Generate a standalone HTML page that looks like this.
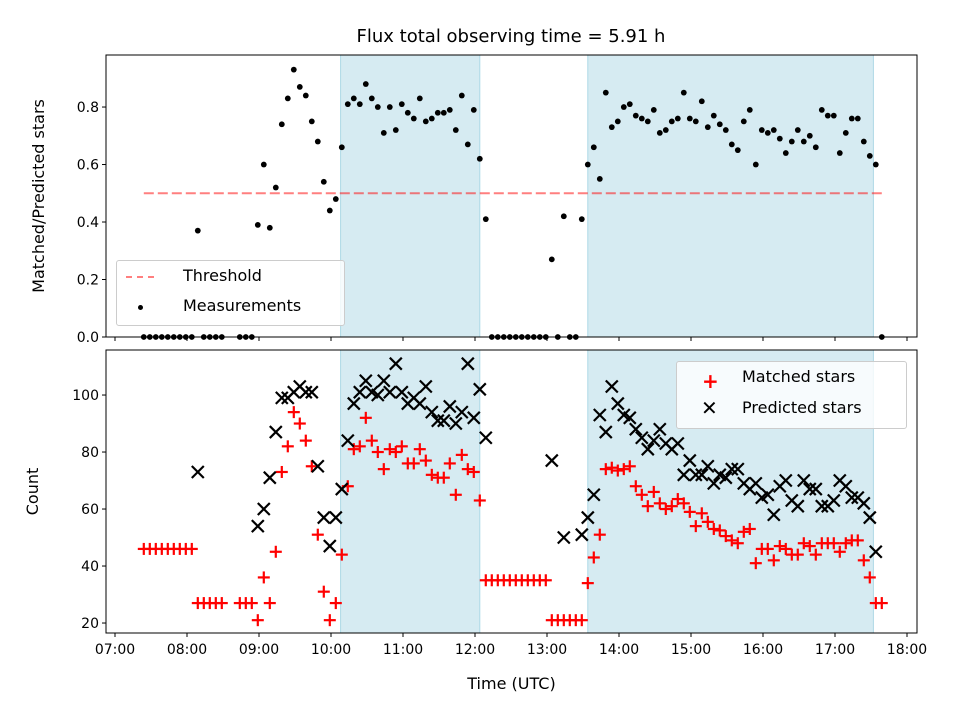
<!DOCTYPE html>
<html><head><meta charset="utf-8"><style>
html,body{margin:0;padding:0;background:#fff;}
svg{display:block;font-family:"DejaVu Sans","Liberation Sans",sans-serif;}
</style></head><body>
<svg id="chart" width="960" height="720" viewBox="0 0 960 720">
<text x="511" y="42" font-size="18" text-anchor="middle">Flux total observing time = 5.91 h</text>
</svg>
<script>
const times = [
"07:24","07:29","07:34","07:39","07:44","07:49","07:54","07:59",
"08:04","08:09","08:14","08:19","08:24","08:29","08:34","08:39","08:44","08:49","08:54","08:59",
"09:04","09:09","09:14","09:19","09:24","09:29","09:34","09:39","09:44","09:49","09:54","09:59",
"10:04","10:09","10:14","10:19","10:24","10:29","10:34","10:39","10:44","10:49","10:54","10:59",
"11:04","11:09","11:14","11:19","11:24","11:29","11:34","11:39","11:44","11:49","11:54","11:59",
"12:04","12:09","12:14","12:19","12:24","12:29","12:34","12:39","12:44","12:49","12:54","12:59",
"13:04","13:09","13:14","13:19","13:24","13:29","13:34","13:39","13:44","13:49","13:54","13:59",
"14:04","14:09","14:14","14:19","14:24","14:29","14:34","14:39","14:44","14:49","14:54","14:59",
"15:04","15:09","15:14","15:19","15:24","15:29","15:34","15:39","15:44","15:49","15:54","15:59",
"16:04","16:09","16:14","16:19","16:24","16:29","16:34","16:39","16:44","16:49","16:54","16:59",
"17:04","17:09","17:14","17:19","17:24","17:29","17:34","17:39"];
const ratio = [
0,0,0,0,0,0,0,0,0,0.37,0,0,0,0,null,null,0,0,0,0.39,
0.60,0.38,0.52,0.74,0.83,0.93,0.87,0.84,0.75,0.68,0.54,0.44,0.48,0.66,0.81,0.83,0.81,0.88,0.83,0.80,
0.71,0.80,0.72,0.81,0.78,0.76,0.83,0.75,0.76,0.78,0.78,0.79,0.72,0.84,0.67,0.79,0.62,0.41,0,0,
0,0,0,0,0,0,0,0,0.27,0,0.42,0,0,0.41,0.60,0.66,0.55,0.85,0.73,0.75,
0.80,0.81,0.77,0.76,0.75,0.79,0.71,0.72,0.75,0.76,0.85,0.76,0.75,0.82,0.73,0.77,0.74,0.72,0.67,0.65,
0.75,0.79,0.60,0.72,0.71,0.72,0.69,0.64,0.68,0.72,0.68,0.70,0.66,0.79,0.77,0.77,0.64,0.71,0.76,0.76,
0.68,0.63,0.60,0];
const matched = [
46,46,46,46,46,46,46,46,46,27,27,27,27,27,null,null,27,27,27,21,
36,27,45,73,82,94,90,84,75,51,31,21,27,44,68,81,82,92,84,80,
74,81,80,82,76,76,81,77,72,71,71,76,65,79,74,73,63,35,35,35,
35,35,35,35,35,35,35,35,21,21,21,21,21,21,34,43,51,74,74.5,73.5,
74,75,68,65,61,66,62,60,61,63.5,62,59,54,58.5,55.5,53,52.5,50.5,49,48,
52,53,41,46,46,42,47,46,44,44,48,47,44,48,48,48,45,48,49,49,
42,36,27,27];
const predicted = [
null,null,null,null,null,null,null,null,null,73,null,null,null,null,null,null,null,null,null,54,
60,71,87,99,99,101,103,101,101,75,57,47,57,67,84,97,101,105,101,100,
105,101,111,101,97,99,97,103,94,91,91,96,90,94,111,92,102,85,null,null,
null,null,null,null,null,null,null,null,77,null,50,null,null,51,57,65,93,87,103,97,
93,92,88,85,81,84,88,83,81,83,72,77,72,72,75,69,72,71,74,74,
69,67,69,64,65,58,68,70,63,61,70,67,67,61,61,63,70,68,64,64,
62,57,45,null];
const threshold = [0.5];
const windowStarts = ["10:08","13:34"];
const windowEnds = ["12:04","17:32"];
const xTickLabels = ["07:00","08:00","09:00","10:00","11:00","12:00","13:00","14:00","15:00","16:00","17:00","18:00"];
const topTicks = [0.0,0.2,0.4,0.6,0.8];
const bottomTicks = [20,40,60,80,100];

const NS="http://www.w3.org/2000/svg";
const svg=document.getElementById('chart');
function el(tag,attrs,parent){const e=document.createElementNS(NS,tag);for(const k in attrs)e.setAttribute(k,attrs[k]);(parent||svg).appendChild(e);return e;}
function hrs(s){const p=s.split(':');return +p[0]+ +p[1]/60;}
const L=106,R=917;
const xMin=6.875,xMax=18.139;
function X(h){return L+(h-xMin)/(xMax-xMin)*(R-L);}
const T={top:55,bot:337,min:0,max:0.981};
const B={top:350,bot:633,min:16.5,max:115.8};
function Y(ax,v){return ax.bot-(v-ax.min)/(ax.max-ax.min)*(ax.bot-ax.top);}

function drawAxes(ax,name,ticks,fmt,ylabel,labelX,showXLabels){
  const g=el('g',{});
  
  
  for(let i=0;i<windowStarts.length;i++){
    const r=el('rect',{x:X(hrs(windowStarts[i])),y:ax.top,width:X(hrs(windowEnds[i]))-X(hrs(windowStarts[i])),height:ax.bot-ax.top,fill:'#add8e6','fill-opacity':0.5,stroke:'#add8e6'},g);
    
    
  }
  ticks.forEach(t=>{
    const y=Y(ax,t);
    el('line',{x1:L-4,x2:L,y1:y,y2:y,stroke:'#000','stroke-width':1},g);
    const tx=el('text',{x:L-7,y:y+5,'font-size':14,'text-anchor':'end'},g);
    tx.textContent=fmt(t);
    
    
  });
  xTickLabels.forEach(s=>{
    const x=X(hrs(s));
    el('line',{x1:x,x2:x,y1:ax.bot,y2:ax.bot+4,stroke:'#000','stroke-width':1},g);
    if(showXLabels){
      const tx=el('text',{x:x,y:ax.bot+21,'font-size':14,'text-anchor':'middle'},g);
      tx.textContent=s;
      
      
    }
  });
  const yl=el('text',{x:labelX,y:(ax.top+ax.bot)/2,'font-size':16,'text-anchor':'middle',transform:`rotate(-90 ${labelX} ${(ax.top+ax.bot)/2})`},g);
  yl.textContent=ylabel;
  
  
  return g;
}
function frame(ax){
  const f=el('rect',{x:L,y:ax.top,width:R-L,height:ax.bot-ax.top,fill:'none',stroke:'#000','stroke-width':1});
  
  
}

// TOP
drawAxes(T,'ratio-axes',topTicks,v=>v.toFixed(1),'Matched/Predicted stars',44,false);
const th=el('line',{x1:X(hrs(times[0])),x2:X(hrs(times[times.length-1])),y1:Y(T,threshold[0]),y2:Y(T,threshold[0]),stroke:'#ff0000','stroke-opacity':0.5,'stroke-width':2,'stroke-dasharray':'10,4'});


ratio.forEach((v,i)=>{
  if(v===null)return;
  const c=el('circle',{cx:X(hrs(times[i])),cy:Y(T,v),r:2.9,fill:'#000'});
  
  
});
frame(T);

// BOTTOM
drawAxes(B,'count-axes',bottomTicks,v=>String(v),'Count',38,true);
function plus(x,y){const g=el('g',{stroke:'#ff0000','stroke-width':2.2});el('line',{x1:x-6,x2:x+6,y1:y,y2:y},g);el('line',{x1:x,x2:x,y1:y-6,y2:y+6},g);return g;}
function cross(x,y){const g=el('g',{stroke:'#000','stroke-width':2.2});el('line',{x1:x-6,x2:x+6,y1:y-6,y2:y+6},g);el('line',{x1:x-6,x2:x+6,y1:y+6,y2:y-6},g);return g;}
matched.forEach((v,i)=>{
  if(v===null)return;
  const m=plus(X(hrs(times[i])),Y(B,v));
  
  
});
predicted.forEach((v,i)=>{
  if(v===null)return;
  const m=cross(X(hrs(times[i])),Y(B,v));
  
  
});
frame(B);
</script>
<div style="position:absolute;left:116px;top:260px;width:227px;height:64px;border:1px solid #ccc;border-radius:3px;background:rgba(255,255,255,0.8);font-family:'DejaVu Sans','Liberation Sans',sans-serif;font-size:16px;">
  <div style="position:absolute;left:9px;top:15px;width:28px;border-top:2px dashed rgba(255,0,0,0.5);"></div>
  <div style="position:absolute;left:66px;top:5px;">Threshold</div>
  <div style="position:absolute;left:21px;top:44px;width:5px;height:5px;border-radius:50%;background:#000;"></div>
  <div style="position:absolute;left:66px;top:35px;">Measurements</div>
</div>
<div style="position:absolute;left:676px;top:361px;width:229px;height:66px;border:1px solid #ccc;border-radius:3px;background:rgba(255,255,255,0.8);font-family:'DejaVu Sans','Liberation Sans',sans-serif;font-size:16px;">
  <div style="position:absolute;left:25px;top:11px;color:#f00;font-size:20px;font-weight:bold;line-height:16px;">+</div>
  <div style="position:absolute;left:65px;top:5px;">Matched stars</div>
  <div style="position:absolute;left:24px;top:38px;font-size:20px;line-height:16px;">✕</div>
  <div style="position:absolute;left:65px;top:36px;">Predicted stars</div>
</div>
<div style="position:absolute;left:0;top:674px;width:1023px;text-align:center;font-family:'DejaVu Sans','Liberation Sans',sans-serif;font-size:16px;">Time (UTC)</div>
</body></html>
